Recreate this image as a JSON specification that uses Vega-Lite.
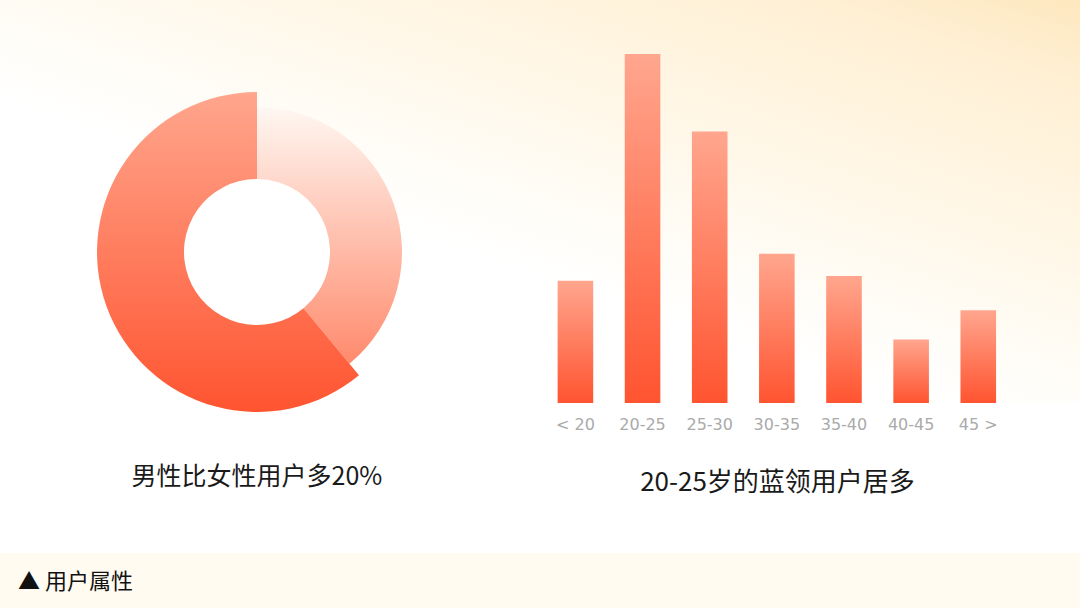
{
  "$schema": "https://vega.github.io/schema/vega-lite/v6.json",
  "padding": 0,
  "background": "#ffffff",
  "config": {
    "view": {"stroke": null},
    "font": "Noto Sans CJK SC"
  },
  "spacing": 49,
  "vconcat": [
    {
      "bounds": "flush",
      "spacing": 0,
      "hconcat": [
        {
          "width": 514,
          "height": 504,
          "view": {
            "fill": {
              "gradient": "linear",
              "x1": 1.1104, "y1": -0.3307, "x2": 0.7475, "y2": 0.7564,
              "stops": [
                {"offset": 0, "color": "#fde7be"},
                {"offset": 0.15, "color": "#fff0d5"},
                {"offset": 0.35, "color": "#fff5e2"},
                {"offset": 0.55, "color": "#fffbf2"},
                {"offset": 0.75, "color": "#ffffff"},
                {"offset": 1, "color": "#ffffff"}
              ]
            }
          },
          "title": {
            "text": "男性比女性用户多20%",
            "orient": "bottom",
            "anchor": "middle",
            "offset": -27,
            "baseline": "middle",
            "fontSize": 25,
            "fontWeight": "normal",
            "color": "#1a1a1a"
          },
          "data": {
            "values": [
              {"gender": "女", "share": 39, "order": 1},
              {"gender": "男", "share": 61, "order": 2}
            ]
          },
          "transform": [
            {"stack": "share", "groupby": [], "sort": [{"field": "order", "order": "ascending"}], "as": ["t0", "t1"]}
          ],
          "layer": [
            {
              "transform": [{"filter": "datum.gender === '女'"}],
              "mark": {
                "type": "arc",
                "innerRadius": 73,
                "outerRadius": 145,
                "fill": {
                  "gradient": "linear",
                  "x1": 0, "y1": 0, "x2": 0, "y2": 1,
                  "stops": [
                    {"offset": 0, "color": "#fff7f2"},
                    {"offset": 1, "color": "#ff8a6c"}
                  ]
                }
              },
              "encoding": {
                "theta": {"field": "t0", "type": "quantitative", "scale": {"domain": [0, 100]}},
                "theta2": {"field": "t1"}
              }
            },
            {
              "transform": [{"filter": "datum.gender === '男'"}],
              "mark": {
                "type": "arc",
                "innerRadius": 73,
                "outerRadius": 160,
                "fill": {
                  "gradient": "linear",
                  "x1": 0, "y1": 0, "x2": 0, "y2": 1,
                  "stops": [
                    {"offset": 0, "color": "#ffa68d"},
                    {"offset": 1, "color": "#ff5430"}
                  ]
                }
              },
              "encoding": {
                "theta": {"field": "t0", "type": "quantitative", "scale": {"domain": [0, 100]}},
                "theta2": {"field": "t1"}
              }
            }
          ]
        },
        {
          "width": 566,
          "height": 403,
          "view": {
            "fill": {
              "gradient": "linear",
              "x1": 1, "y1": 0, "x2": 0.4266, "y2": 1.2475,
              "stops": [
                {"offset": 0, "color": "#fde7be"},
                {"offset": 0.15, "color": "#fff0d5"},
                {"offset": 0.35, "color": "#fff5e2"},
                {"offset": 0.55, "color": "#fffbf2"},
                {"offset": 0.75, "color": "#ffffff"},
                {"offset": 1, "color": "#ffffff"}
              ]
            }
          },
          "data": {
            "values": [
              {"age": "< 20", "share": 10.4},
              {"age": "20-25", "share": 29.7},
              {"age": "25-30", "share": 23.1},
              {"age": "30-35", "share": 12.7},
              {"age": "35-40", "share": 10.8},
              {"age": "40-45", "share": 5.4},
              {"age": "45 >", "share": 7.9}
            ]
          },
          "mark": {
            "type": "bar",
            "fill": {
              "gradient": "linear",
              "x1": 0, "y1": 0, "x2": 0, "y2": 1,
              "stops": [
                {"offset": 0, "color": "#ffa68e"},
                {"offset": 1, "color": "#ff5430"}
              ]
            }
          },
          "encoding": {
            "x": {
              "field": "age",
              "type": "nominal",
              "sort": null,
              "scale": {"paddingInner": 0.47, "paddingOuter": 0.95, "align": 0.342},
              "axis": {
                "title": "20-25岁的蓝领用户居多",
                "labelAngle": 0,
                "labelFont": "DejaVu Sans",
                "labelFontSize": 16,
                "labelColor": "#aaaaaa",
                "labelPadding": 13,
                "ticks": false,
                "domain": false,
                "titleFont": "Noto Sans CJK SC",
                "titleFontSize": 26,
                "titleFontWeight": "normal",
                "titleColor": "#1a1a1a",
                "titlePadding": 37,
                "titleX": 263
              }
            },
            "y": {
              "field": "share",
              "type": "quantitative",
              "scale": {"domain": [0, 34.3], "nice": false},
              "axis": null
            }
          }
        }
      ]
    },
    {
      "width": 1080,
      "height": 55,
      "view": {"fill": "#fffbf1"},
      "title": {
        "text": "▲ 用户属性",
        "orient": "top",
        "anchor": "start",
        "frame": "group",
        "offset": -51,
        "baseline": "middle",
        "dx": 18,
        "fontSize": 22,
        "fontWeight": "normal",
        "color": "#111111"
      },
      "data": {"values": [{"band": "footer"}]},
      "mark": {"type": "rect", "fill": "#fffbf1"}
    }
  ]
}
